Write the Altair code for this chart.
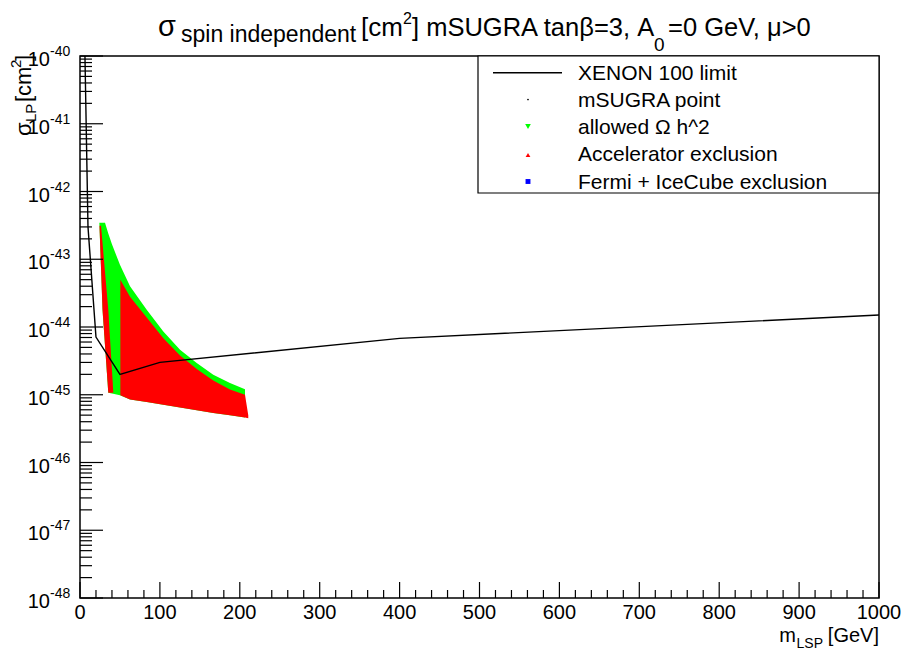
import altair as alt
import pandas as pd

FONT = "Liberation Sans"

# XENON 100 upper limit: LSP mass [GeV] and cross section [cm^2]
xenon_m = [6.2, 10, 20, 50, 100, 400, 1000]
xenon_sigma = [1.0e-40, 3.0e-43, 7.1e-45, 2.0e-45, 3.0e-45, 6.8e-45, 1.5e-44]

# allowed Omega h^2 region (upper and lower edge)
omega_m = [24.2, 28.2, 31.3, 35.4, 40, 50, 62.6, 83.5, 104.3, 125.2, 146.1, 166.8, 187.7, 206.5]
omega_hi = [3.47e-43, 3.47e-43, 3.47e-43, 2.4e-43, 1.66e-43, 8.3e-44, 4.0e-44, 1.8e-44,
            8.6e-45, 4.62e-45, 2.94e-45, 1.97e-45, 1.49e-45, 1.21e-45]
omega_lo = [3.47e-43, 1.8e-44, 5.4e-45, 1.07e-45, 1.04e-45, 9.8e-46, 8.5e-46, 7.8e-46,
            7.1e-46, 6.5e-46, 5.9e-46, 5.4e-46, 5.0e-46, 4.6e-46]

# accelerator exclusion, low-mass strip (bounded left/right at each cross section)
acc_strip_sigma = [3.13e-43, 1.8e-44, 1.07e-45]
acc_strip_left = [24.4, 28.2, 35.4]
acc_strip_right = [26.3, 35.4, 41.7]

# accelerator exclusion, wedge below the Omega h^2 band
acc_m = [50.5, 62.6, 83.5, 104.3, 125.2, 146.1, 166.8, 187.7, 206.5, 210.6]
acc_hi = [5.0e-44, 2.8e-44, 1.38e-44, 6.8e-45, 3.8e-45, 2.4e-45, 1.62e-45, 1.2e-45, 1.0e-45, 5.0e-46]
acc_lo = [9.8e-46, 8.5e-46, 7.8e-46, 7.1e-46, 6.5e-46, 5.9e-46, 5.4e-46, 5.0e-46, 4.6e-46, 4.5e-46]

# axes
x_major = list(range(0, 1001, 100))
x_minor = [v for v in range(0, 1001, 20) if v % 100 != 0]
y_exponents = list(range(-48, -39))
y_minor = [k * 10.0 ** e for e in range(-48, -40) for k in range(2, 10)]

W, H = 799, 542
xscale = alt.Scale(domain=[0, 1000], nice=False, zero=False)
yscale = alt.Scale(type="log", domain=[1e-48, 1e-40], nice=False)
X = lambda f="m": alt.X(f"{f}:Q", scale=xscale, axis=None)
Y = lambda f="sigma": alt.Y(f"{f}:Q", scale=yscale, axis=None)


def label(text, x, y, size, angle=0, align="left"):
    return alt.Chart(pd.DataFrame({"t": [text]})).mark_text(
        font=FONT, fontSize=size, align=align, baseline="alphabetic",
        angle=angle, color="black"
    ).encode(x=alt.value(x), y=alt.value(y), text="t:N")


omega = alt.Chart(pd.DataFrame({"m": omega_m, "sigma": omega_hi, "sigma2": omega_lo})).mark_area(
    color="#00ff00", opacity=1
).encode(x=X(), y=Y(), y2="sigma2:Q")

acc_wedge = alt.Chart(pd.DataFrame({"m": acc_m, "sigma": acc_hi, "sigma2": acc_lo})).mark_area(
    color="#ff0000", opacity=1
).encode(x=X(), y=Y(), y2="sigma2:Q")

acc_strip = alt.Chart(pd.DataFrame({"sigma": acc_strip_sigma, "m": acc_strip_left,
                                    "m2": acc_strip_right})).mark_area(
    color="#ff0000", opacity=1, orient="horizontal"
).encode(y=Y(), x=X(), x2="m2:Q")

xenon = alt.Chart(pd.DataFrame({"m": xenon_m, "sigma": xenon_sigma})).mark_line(
    color="black", strokeWidth=1.4, clip=True
).encode(x=X(), y=Y())

# tick marks drawn inside the frame
y_major_ticks = alt.Chart(pd.DataFrame({"sigma": [10.0 ** e for e in y_exponents]})).mark_rule(
    color="black", strokeWidth=1.2
).encode(y=Y(), x=alt.value(0), x2=alt.value(23))
y_minor_ticks = alt.Chart(pd.DataFrame({"sigma": y_minor})).mark_rule(
    color="black", strokeWidth=1.2
).encode(y=Y(), x=alt.value(0), x2=alt.value(12))
x_major_ticks = alt.Chart(pd.DataFrame({"m": x_major})).mark_rule(
    color="black", strokeWidth=1.2
).encode(x=X(), y=alt.value(H), y2=alt.value(H - 16))
x_minor_ticks = alt.Chart(pd.DataFrame({"m": x_minor})).mark_rule(
    color="black", strokeWidth=1.2
).encode(x=X(), y=alt.value(H), y2=alt.value(H - 8))

# tick labels
x_labels = alt.Chart(pd.DataFrame({"m": x_major, "t": [str(v) for v in x_major]})).mark_text(
    font=FONT, fontSize=20, align="center", baseline="alphabetic", color="black"
).encode(x=X(), y=alt.value(H + 21), text="t:N")

ylab_df = pd.DataFrame({"sigma": [10.0 ** e for e in y_exponents],
                        "base": ["10"] * len(y_exponents),
                        "exp": [str(e) for e in y_exponents]})
y_base = alt.Chart(ylab_df).mark_text(
    font=FONT, fontSize=20, align="right", baseline="alphabetic", dy=10, color="black"
).encode(y=Y(), x=alt.value(-30), text="base:N")
y_exp = alt.Chart(ylab_df).mark_text(
    font=FONT, fontSize=14, align="left", baseline="alphabetic", dy=0, color="black"
).encode(y=Y(), x=alt.value(-30), text="exp:N")

# legend box
legend_box = alt.Chart(pd.DataFrame({"a": [0]})).mark_rect(
    fill="white", stroke="black", strokeWidth=1.2
).encode(x=alt.value(398), x2=alt.value(W), y=alt.value(0), y2=alt.value(137))
leg_line = alt.Chart(pd.DataFrame({"a": [0]})).mark_rule(color="black", strokeWidth=1.4).encode(
    x=alt.value(413), x2=alt.value(482), y=alt.value(16.7))


def leg_point(shape, color, y, size):
    return alt.Chart(pd.DataFrame({"a": [0]})).mark_point(
        shape=shape, filled=True, color=color, size=size, opacity=1
    ).encode(x=alt.value(448), y=alt.value(y))


legend_items = [
    leg_line,
    leg_point("circle", "black", 43.5, 3),
    leg_point("triangle-down", "#00ff00", 70.5, 32),
    leg_point("triangle-up", "#ff0000", 99, 22),
    leg_point("square", "#0000ff", 125.5, 24),
]
legend_texts = ["XENON 100 limit", "mSUGRA point", "allowed \u03a9 h^2",
                "Accelerator exclusion", "Fermi + IceCube exclusion"]
legend_labels = [label(t, 498, 23.7 + 27.2 * i, 21) for i, t in enumerate(legend_texts)]

# title pieces
title = [
    label("\u03c3", 78, -20, 29),
    label("spin independent", 101, -14, 23),
    label("[cm", 281, -20, 26),
    label("2", 323, -32, 16),
    label("] mSUGRA tan\u03b2=3, A", 332, -20, 25.5),
    label("0", 574, -5, 19),
    label("=0 GeV, \u03bc>0", 588, -20, 25.5),
]

# axis titles
x_title = [
    label("[GeV]", W, H + 43.5, 20, align="right"),
    label("LSP", W - 56, H + 49.5, 14, align="right"),
    label("m", W - 83, H + 43.5, 20, align="right"),
]
y_title = [
    label("\u03c3", -49, 80, 22, angle=270),
    label("LP", -44, 66, 15, angle=270),
    label("[cm", -49, 46, 22, angle=270),
    label("2", -59, 12, 15, angle=270),
    label("]", -49, 5, 22, angle=270),
]

chart = alt.layer(
    omega, acc_wedge, acc_strip, xenon,
    y_major_ticks, y_minor_ticks, x_major_ticks, x_minor_ticks,
    x_labels, y_base, y_exp,
    legend_box, *legend_items, *legend_labels,
    *title, *x_title, *y_title,
).properties(
    width=W, height=H,
    padding={"left": 80, "top": 56, "right": 25, "bottom": 51},
    autosize=alt.AutoSizeParams(type="none"),
    background="white",
).configure_view(stroke="black", strokeWidth=1.5)

chart.save("out.html", embed_options={"renderer": "svg", "actions": False})
